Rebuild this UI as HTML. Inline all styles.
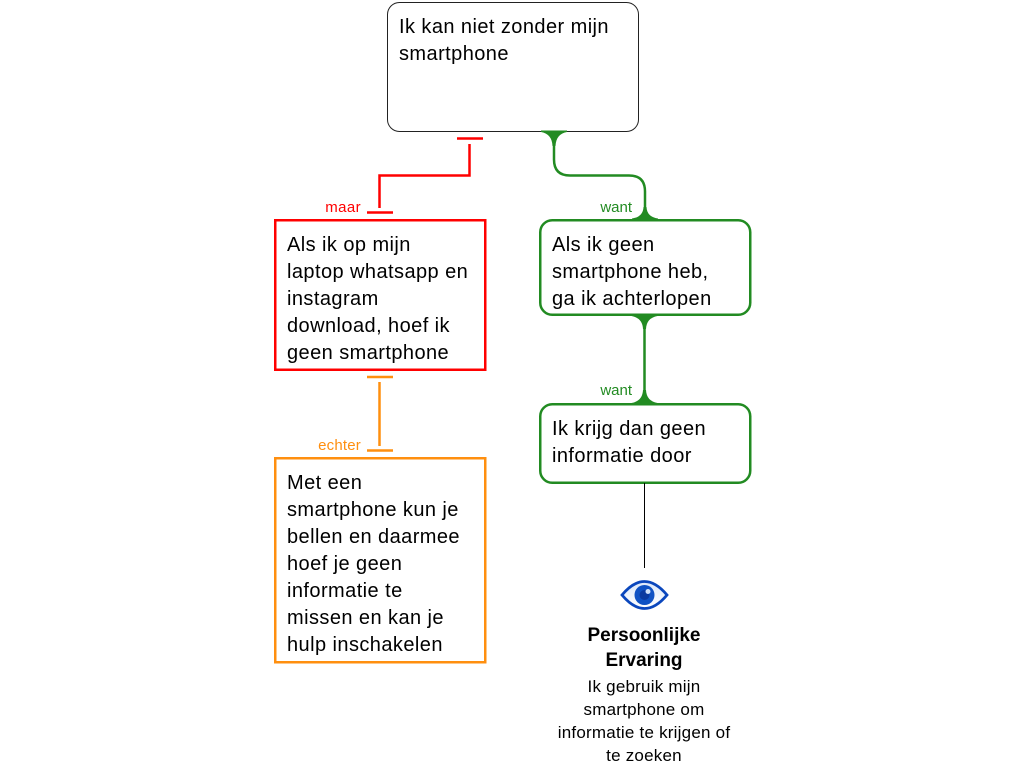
<!DOCTYPE html>
<html><head><meta charset="utf-8"><style>
html,body{margin:0;padding:0;background:#fff}
#c{position:relative;width:1024px;height:768px;overflow:hidden;font-family:"Liberation Sans",sans-serif;color:#000}
svg{position:absolute;left:0;top:0}
.t{position:absolute;font-size:20px;line-height:27px;letter-spacing:.43px;white-space:nowrap}
.l{position:absolute;font-size:15px;line-height:15px;white-space:nowrap;text-align:right}
.c{position:absolute;text-align:center;white-space:nowrap}
</style></head><body><div id="c">
<svg width="1024" height="768" viewBox="0 0 1024 768" fill="none">
<defs><linearGradient id="e" x1="0" y1="0" x2="0" y2="1"><stop offset="0" stop-color="#dce8fa"/><stop offset="1" stop-color="#fff"/></linearGradient></defs>
<rect x="387.500" y="2.500" width="251" height="129" rx="12" fill="#fff" stroke="#222" stroke-width="1"/>
<g stroke="#f00" stroke-width="2.500">
<path d="M457 138.500H483M469.500 144V175.500H379.500V208M367 212.500H393"/>
<rect x="275.250" y="220.250" width="210" height="149.500"/>
</g>
<g stroke="#ff8f0f" stroke-width="2.500">
<path d="M367 377H393M379.500 382V446M367 450.500H393"/>
<rect x="275.250" y="458.250" width="210" height="204"/>
</g>
<g stroke="#228b22" stroke-width="2.500">
<path d="M554 132V159.500Q554 175.500 570 175.500H629Q645 175.500 645 191.500V220M644.500 315V404"/>
<rect x="540.250" y="220.250" width="210" height="94.500" rx="12"/>
<rect x="540.250" y="404.250" width="210" height="78.500" rx="12"/>
</g>
<g fill="#228b22">
<path d="M541 130.500H567V132Q556 134 555.500 146H552.500Q552 134 541 132Z"/>
<path d="M632 220V218.500Q643 217 643.500 207H646.500Q647 217 658 218.500V220Z"/>
<path d="M631.500 315.500H657.500V316Q646.500 318 646 329H643Q642.500 318 631.500 316Z"/>
<path d="M631.500 404V403Q642.500 401 643 390H646Q646.500 401 657.500 403V404Z"/>
</g>
<path d="M644.500 483V568" stroke="#000" stroke-width="1"/>
<path d="M622 595Q644.500 568 667 595Q644.500 622 622 595Z" fill="url(#e)" stroke="#0b47bd" stroke-width="2.800"/>
<circle cx="644.500" cy="595" r="10" fill="#0f52c4"/>
<circle cx="644.500" cy="595" r="5" fill="#0a3aa0"/>
<circle cx="648" cy="591.500" r="2.500" fill="#cfe0f8"/>
</svg>
<div class="t" style="left:399px;top:14px">Ik kan niet zonder mijn<br>smartphone</div>
<div class="t" style="left:287px;top:232px">Als ik op mijn<br>laptop whatsapp en<br>instagram<br>download, hoef ik<br>geen smartphone</div>
<div class="t" style="left:287px;top:470px">Met een<br>smartphone kun je<br>bellen en daarmee<br>hoef je geen<br>informatie te<br>missen en kan je<br>hulp inschakelen</div>
<div class="t" style="left:552px;top:232px">Als ik geen<br>smartphone heb,<br>ga ik achterlopen</div>
<div class="t" style="left:552px;top:416px">Ik krijg dan geen<br>informatie door</div>
<div class="l" style="right:663px;top:200px;color:#f00;letter-spacing:.4px">maar</div>
<div class="l" style="right:392px;top:200px;color:#228b22">want</div>
<div class="l" style="right:392px;top:383px;color:#228b22">want</div>
<div class="l" style="right:663px;top:438px;color:#ff8f0f;letter-spacing:.2px">echter</div>
<div class="c" style="left:544px;width:200px;top:623px;font-size:19px;font-weight:bold;line-height:25px">Persoonlijke<br>Ervaring</div>
<div class="c" style="left:544px;width:200px;top:675px;font-size:17px;line-height:23px;letter-spacing:.22px">Ik gebruik mijn<br>smartphone om<br>informatie te krijgen of<br>te zoeken</div>
</div></body></html>
